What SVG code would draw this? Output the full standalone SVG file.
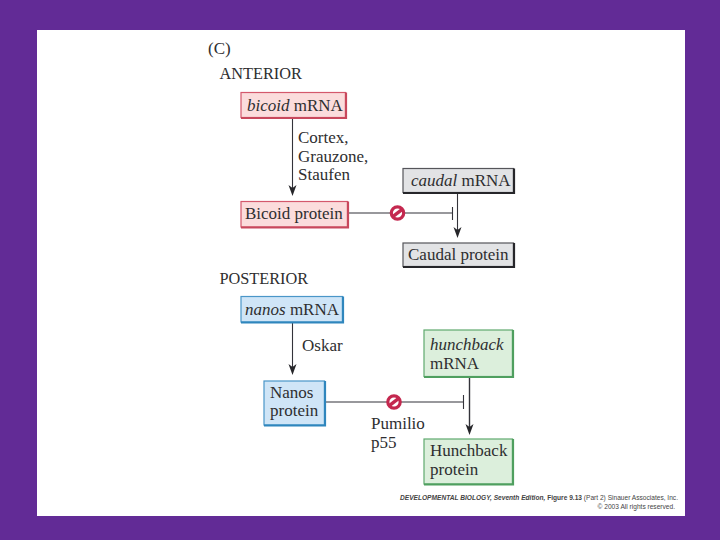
<svg xmlns="http://www.w3.org/2000/svg" width="720" height="540" viewBox="0 0 720 540">
<style>
text{font-family:"Liberation Serif","Times New Roman",serif;font-size:17px;fill:#2e2e30}
.i{font-style:italic}
.h{font-size:16.3px}
.red{fill:#fbdcdc;stroke:#d4586c;stroke-width:1.2}
.gray{fill:#e2e3e5;stroke:#55555a;stroke-width:1.2}
.blue{fill:#cfe5f7;stroke:#4a96c8;stroke-width:1.2}
.green{fill:#dcefdc;stroke:#5fa96e;stroke-width:1.2}
.s{fill:none;stroke-width:2.2}
.sr{stroke:#c8485c}
.sg{stroke:#26262a}
.sb{stroke:#2f86bd}
.sn{stroke:#4f9f5f}
.ln{fill:none;stroke:#33333a;stroke-width:1.1}
.hd{fill:#26262a}
.foot{font-family:"Liberation Sans",Arial,sans-serif;font-size:6.6px;fill:#444}
</style>
<defs>
<g id="no"><circle r="6.2" fill="#fff" stroke="#c4284f" stroke-width="3.2"/><path d="M-4.400 3.400L4.400-3.400" stroke="#c4284f" stroke-width="3.4"/></g>
</defs>
<rect width="720" height="540" fill="#622b96"/>
<rect x="37" y="30" width="648" height="486" fill="#fff"/>
<g id="connectors">
<path class="ln" d="M292.500 119V190"/><path class="hd" d="M288.500 185L292.500 188L296.500 185L292.500 196Z"/>
<path class="ln" d="M348 213H452M452.500 207V220"/>
<path class="ln" d="M457.500 194V232"/><path class="hd" d="M453.500 227L457.500 230L461.500 227L457.500 238Z"/>
<path class="ln" d="M292.500 323V370"/><path class="hd" d="M288.500 364L292.500 367L296.500 364L292.500 375Z"/>
<path class="ln" d="M326 402H463M463.500 395V409"/>
<path class="ln" style="stroke-width:1.4" d="M469.500 378V430"/><path class="hd" d="M465.500 424L469.500 427L473.500 424L469.500 435Z"/>
<use href="#no" x="397.500" y="213"/>
<use href="#no" x="394" y="402"/>
</g>
<g id="labels">
<text x="208" y="54">(C)</text>
<text class="h" x="219.500" y="79">ANTERIOR</text>
<text x="298" y="143">Cortex,</text>
<text x="298" y="162">Grauzone,</text>
<text x="298" y="180">Staufen</text>
<text class="h" x="219.500" y="284">POSTERIOR</text>
<text x="302" y="351">Oskar</text>
<text x="371" y="429">Pumilio</text>
<text x="371" y="448">p55</text>
</g>
<g id="bicoid-mrna"><rect class="red" x="241" y="92.500" width="104.500" height="25"/><path class="s sr" d="M346 92.500V118H241"/><text x="247" y="111"><tspan class="i">bicoid</tspan> mRNA</text></g>
<g id="bicoid-protein"><rect class="red" x="241" y="201.500" width="106.500" height="25.500"/><path class="s sr" d="M348 201.500V227.500H241"/><text x="245" y="219">Bicoid protein</text></g>
<g id="caudal-mrna"><rect class="gray" x="403" y="168.500" width="110.500" height="24"/><path class="s sg" d="M514 168.500V193H403"/><text x="411" y="186"><tspan class="i">caudal</tspan> mRNA</text></g>
<g id="caudal-protein"><rect class="gray" x="403" y="243" width="110.500" height="23.500"/><path class="s sg" d="M514 243V267H403"/><text x="408" y="260">Caudal protein</text></g>
<g id="nanos-mrna"><rect class="blue" x="241" y="296.500" width="101.500" height="25.500"/><path class="s sb" d="M343 296.500V322.500H241"/><text x="245" y="315"><tspan class="i">nanos</tspan> mRNA</text></g>
<g id="nanos-protein"><rect class="blue" x="264" y="381" width="60.500" height="44"/><path class="s sb" d="M325 381V425.500H264"/><text x="270" y="398">Nanos</text><text x="270" y="416">protein</text></g>
<g id="hunchback-mrna"><rect class="green" x="424" y="330" width="88.500" height="46.500"/><path class="s sn" d="M513 330V377H424"/><text x="430" y="350" class="i">hunchback</text><text x="430" y="369">mRNA</text></g>
<g id="hunchback-protein"><rect class="green" x="424" y="439" width="88.500" height="45"/><path class="s sn" d="M513 439V484.500H424"/><text x="430" y="456">Hunchback</text><text x="430" y="475">protein</text></g>
<g id="credit">
<text class="foot" x="400" y="500"><tspan font-style="italic" font-weight="bold">DEVELOPMENTAL BIOLOGY, Seventh Edition,</tspan><tspan font-weight="bold"> Figure 9.13</tspan> (Part 2)  Sinauer Associates, Inc.</text>
<text class="foot" x="675" y="509" text-anchor="end">© 2003 All rights reserved.</text>
</g>
</svg>
